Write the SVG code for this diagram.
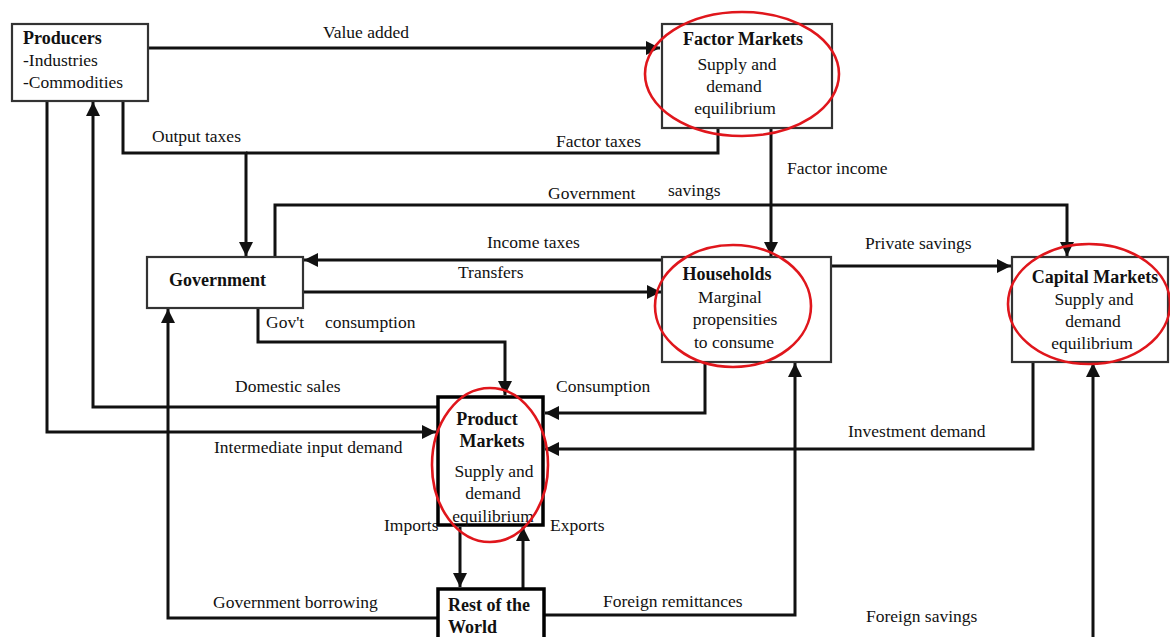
<svg xmlns="http://www.w3.org/2000/svg" width="1170" height="637" viewBox="0 0 1170 637">
<style>
text{font-family:"Liberation Serif","Times New Roman",serif;font-size:17.5px;fill:#111}
.b{font-weight:bold;font-size:18px}
.c{text-anchor:middle}
.box{fill:#fff;stroke:#333;stroke-width:2.2}
.tbox{fill:#fff;stroke:#000;stroke-width:3.5}
.ring{fill:none;stroke:#e0161c;stroke-width:2.6}
.ln{fill:none;stroke:#111;stroke-width:3}
</style>
<defs>
<marker id="ah" markerUnits="userSpaceOnUse" markerWidth="15" markerHeight="14" refX="14" refY="7" orient="auto">
<path d="M0,0 L14,7 L0,14 z" fill="#111"/>
</marker>
</defs>
<rect width="1170" height="637" fill="#fff"/>
<g id="connectors">
<path class="ln" d="M148,48 H660" marker-end="url(#ah)"/>
<path class="ln" d="M123,101 V153 H246 V256" marker-end="url(#ah)"/>
<path class="ln" d="M718,128 V153 H246"/>
<path class="ln" d="M771,128 V256" marker-end="url(#ah)"/>
<path class="ln" d="M275,257 V205 H1067 V256" marker-end="url(#ah)"/>
<path class="ln" d="M662,260 H304" marker-end="url(#ah)"/>
<path class="ln" d="M303,292 H661" marker-end="url(#ah)"/>
<path class="ln" d="M831,266 H1011" marker-end="url(#ah)"/>
<path class="ln" d="M258,308 V342 H505 V395" marker-end="url(#ah)"/>
<path class="ln" d="M438,407 H93 V102" marker-end="url(#ah)"/>
<path class="ln" d="M47,101 V432 H436" marker-end="url(#ah)"/>
<path class="ln" d="M705,362 V413 H545" marker-end="url(#ah)"/>
<path class="ln" d="M1033,362 V449 H545" marker-end="url(#ah)"/>
<path class="ln" d="M437,618 H168 V309" marker-end="url(#ah)"/>
<path class="ln" d="M460,527 V587" marker-end="url(#ah)"/>
<path class="ln" d="M523,589 V527" marker-end="url(#ah)"/>
<path class="ln" d="M544,615 H795 V363" marker-end="url(#ah)"/>
<path class="ln" d="M544,639 H1093 V363" marker-end="url(#ah)"/>
</g>
<g id="labels">
<text x="323" y="38">Value added</text>
<text x="152" y="142">Output taxes</text>
<text x="556" y="147">Factor taxes</text>
<text x="787" y="174">Factor income</text>
<text x="548" y="199">Government</text>
<text x="668" y="196">savings</text>
<text x="487" y="248">Income taxes</text>
<text x="458" y="278">Transfers</text>
<text x="865" y="249">Private savings</text>
<text x="266" y="328">Gov't</text>
<text x="325" y="328">consumption</text>
<text x="235" y="392">Domestic sales</text>
<text x="556" y="392">Consumption</text>
<text x="848" y="437">Investment demand</text>
<text x="214" y="453">Intermediate input demand</text>
<text x="384" y="531">Imports</text>
<text x="550" y="531">Exports</text>
<text x="213" y="608">Government borrowing</text>
<text x="603" y="607">Foreign remittances</text>
<text x="866" y="622">Foreign savings</text>
</g>
<g id="producers">
<rect class="box" x="12" y="24" width="136" height="77"/>
<text class="b" x="23" y="44">Producers</text>
<text x="23" y="66">-Industries</text>
<text x="23" y="88">-Commodities</text>
</g>
<g id="factor-markets">
<rect class="box" x="662" y="24" width="170" height="104"/>
<text class="b c" x="743" y="45">Factor Markets</text>
<text class="c" x="737" y="70">Supply and</text>
<text class="c" x="734" y="92">demand</text>
<text class="c" x="735" y="114">equilibrium</text>
<ellipse class="ring" cx="742" cy="74" rx="97" ry="62"/>
</g>
<g id="government">
<rect class="box" x="147" y="257" width="156" height="51"/>
<text class="b" x="169" y="286">Government</text>
</g>
<g id="households">
<rect class="box" x="662" y="257" width="169" height="105"/>
<text class="b c" x="727" y="280">Households</text>
<text class="c" x="730" y="303">Marginal</text>
<text class="c" x="735" y="325">propensities</text>
<text class="c" x="734" y="348">to consume</text>
<ellipse class="ring" cx="733" cy="306" rx="78" ry="61"/>
</g>
<g id="capital-markets">
<rect class="box" x="1012" y="257" width="156" height="105"/>
<text class="b c" x="1095" y="283">Capital Markets</text>
<text class="c" x="1094" y="305">Supply and</text>
<text class="c" x="1093" y="327">demand</text>
<text class="c" x="1092" y="349">equilibrium</text>
<ellipse class="ring" cx="1089" cy="304" rx="81" ry="60"/>
</g>
<g id="product-markets">
<rect class="tbox" x="438" y="397" width="105" height="128"/>
<text class="b c" x="487" y="425">Product</text>
<text class="b c" x="492" y="447">Markets</text>
<text class="c" x="494" y="477">Supply and</text>
<text class="c" x="493" y="499">demand</text>
<text class="c" x="493" y="522">equilibrium</text>
<ellipse class="ring" cx="490" cy="465" rx="58" ry="77"/>
</g>
<g id="rest-of-world">
<rect class="tbox" x="438" y="589" width="106" height="60"/>
<text class="b" x="448" y="611">Rest of the</text>
<text class="b" x="448" y="633">World</text>
</g>
</svg>
